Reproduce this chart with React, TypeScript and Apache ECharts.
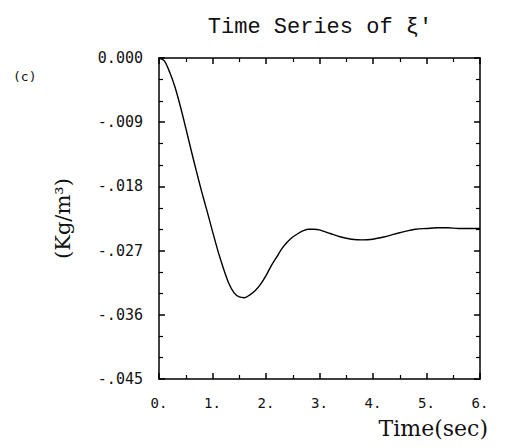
import React, { useEffect, useRef } from "react";
import * as echarts from "echarts";

const times = [0, 0.1, 0.2, 0.3, 0.4, 0.5, 0.6, 0.7, 0.8, 0.9, 1.0, 1.1, 1.2, 1.3, 1.4, 1.5, 1.6, 1.7, 1.8, 1.9, 2.0, 2.1, 2.2, 2.3, 2.4, 2.5, 2.6, 2.7, 2.8, 2.9, 3.0, 3.2, 3.4, 3.6, 3.8, 4.0, 4.2, 4.4, 4.6, 4.8, 5.0, 5.2, 5.4, 5.6, 5.8, 6.0];
const values = [0, -0.0004, -0.002, -0.0041, -0.0068, -0.0098, -0.0129, -0.0159, -0.0188, -0.0215, -0.0243, -0.027, -0.0294, -0.0315, -0.0329, -0.0335, -0.0336, -0.0332, -0.0326, -0.0317, -0.0305, -0.0291, -0.0279, -0.0267, -0.0258, -0.0251, -0.0246, -0.0242, -0.024, -0.024, -0.0241, -0.0246, -0.0251, -0.0254, -0.0255, -0.0254, -0.0251, -0.0247, -0.0243, -0.024, -0.0239, -0.0238, -0.0238, -0.0239, -0.0239, -0.0239];

const titleText = "Time Series of ξ'";
const xName = "Time(sec)";
const yName = "(Kg/m³)";
const panelLabel = "(c)";

const fmtY = (v: number) => {
  if (Math.abs(v) < 1e-9) return "0.000";
  return "-" + Math.abs(v).toFixed(3).slice(1);
};
const fmtX = (v: number) => Math.round(v) + ".";

export default function App() {
  const ref = useRef<HTMLDivElement>(null);
  useEffect(() => {
    if (!ref.current) return;
    const chart = echarts.init(ref.current, null, { renderer: "svg" });
    const mono = "DejaVu Sans Mono";
    const tickInside = () => ({ show: true, inside: true, length: 6, lineStyle: { color: "#000", width: 1.5, opacity: 1 } });
    const minorInside = (n: number) => ({ show: true, splitNumber: n, length: 4, lineStyle: { color: "#000", width: 1.2, opacity: 1 } });
    const frameLine = () => ({ show: true, onZero: false, lineStyle: { color: "#000", width: 1.5 } });
    chart.setOption({
      animation: false,
      backgroundColor: "#fff",
      title: {
        text: titleText,
        left: 315,
        top: 11,
        textAlign: "center",
        textStyle: { fontFamily: "Liberation Mono", fontSize: 22, fontWeight: "normal", color: "#111" },
      },
      graphic: [
        {
          type: "text",
          left: 13,
          top: 70,
          style: { text: panelLabel, font: "13px DejaVu Sans Mono", fill: "#111" },
        },
      ],
      grid: { left: 159, top: 58, right: 40, bottom: 69, show: false },
      xAxis: [
        {
          type: "value",
          min: 0,
          max: 6,
          interval: 1,
          position: "bottom",
          name: xName,
          nameLocation: "end",
          nameGap: 0,
          nameTextStyle: {
            fontFamily: "DejaVu Serif",
            fontSize: 22,
            color: "#111",
            align: "right",
            verticalAlign: "top",
            padding: [38, -8, 0, 0],
          },
          axisLine: frameLine(),
          axisTick: tickInside(),
          minorTick: minorInside(2),
          splitLine: { show: false },
          minorSplitLine: { show: false },
          axisLabel: { formatter: fmtX, margin: 17, fontFamily: mono, fontSize: 14, color: "#111" },
        },
        {
          type: "value",
          min: 0,
          max: 6,
          interval: 1,
          position: "top",
          axisLine: frameLine(),
          axisTick: tickInside(),
          minorTick: minorInside(2),
          splitLine: { show: false },
          axisLabel: { show: false },
        },
      ],
      yAxis: [
        {
          type: "value",
          min: -0.045,
          max: 0,
          interval: 0.009,
          position: "left",
          name: yName,
          nameLocation: "middle",
          nameGap: 86,
          nameRotate: 90,
          nameTextStyle: { fontFamily: "DejaVu Serif", fontSize: 21, color: "#111" },
          axisLine: frameLine(),
          axisTick: tickInside(),
          minorTick: minorInside(3),
          splitLine: { show: false },
          axisLabel: { formatter: fmtY, margin: 16, fontFamily: mono, fontSize: 15, color: "#111" },
        },
        {
          type: "value",
          min: -0.045,
          max: 0,
          interval: 0.009,
          position: "right",
          axisLine: frameLine(),
          axisTick: tickInside(),
          minorTick: minorInside(3),
          splitLine: { show: false },
          axisLabel: { show: false },
        },
      ],
      series: [
        {
          type: "line",
          xAxisIndex: 0,
          yAxisIndex: 0,
          data: times.map((t, i) => [t, values[i]]),
          smooth: 0.3,
          showSymbol: false,
          lineStyle: { color: "#000", width: 1.4 },
        },
      ],
    });
    return () => chart.dispose();
  }, []);
  return <div ref={ref} style={{ width: 520, height: 448, position: "absolute", left: 0, top: 0 }} />;
}
